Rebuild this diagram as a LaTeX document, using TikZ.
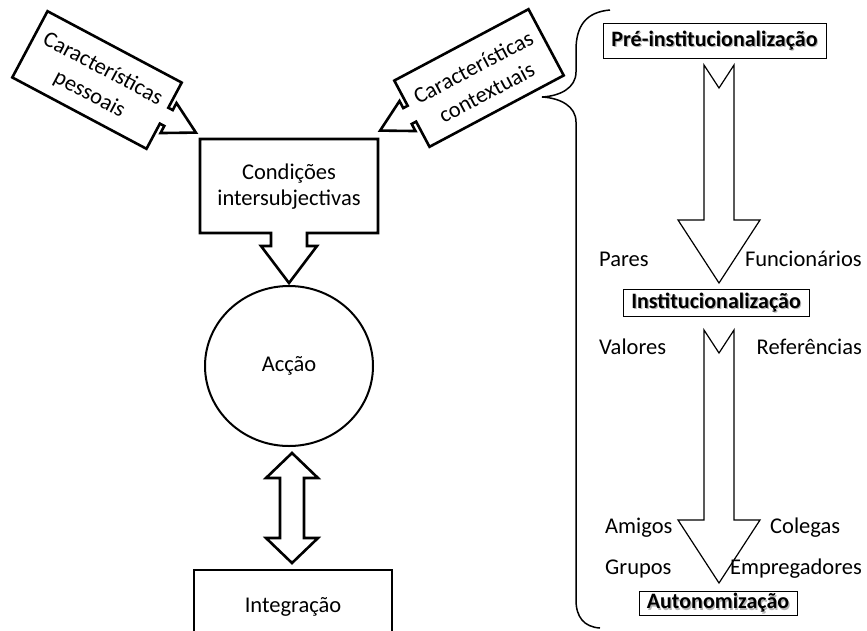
\documentclass[tikz,border=0pt]{standalone}
\usepackage{fontspec}
\setmainfont{Carlito}
\usetikzlibrary{calc,shapes.geometric}

% framed stage label with a soft grey shadow behind the bold text
\newcommand{\stagebox}[5]{%
  \node[stagebox, minimum width=#3, minimum height=#4] (#1) at #2 {};
  \node[stagetext, text=black!55, opacity=0.55] at ($#2+(1.2,1.4)$) {#5};
  \node[stagetext] at #2 {#5};
}

\begin{document}
\begin{tikzpicture}[x=1pt,y=-1pt,
  lbl/.style={font=\fontsize{22.5}{26}\selectfont, align=center, inner sep=0pt},
  tiltlbl/.style={font=\fontsize{22.5}{28.5}\selectfont, align=center, inner sep=0pt},
  bigshape/.style={draw=black, line width=2.6pt, line join=miter, fill=white},
  stagebox/.style={draw=black, line width=0.9pt, fill=white, inner sep=0pt},
  stagetext/.style={font=\fontsize{22}{26}\selectfont\bfseries, inner sep=0pt},
  flow/.style={draw=black, line width=1.2pt, fill=white, line join=miter},
  side/.style={font=\fontsize{22.5}{26}\selectfont, inner sep=0pt},
]
\useasboundingbox (0,0) rectangle (867,630);
\clip (0,0) rectangle (867,630);

% personal characteristics callout
\begin{scope}[shift={(97,80)}, rotate=-28]
  \draw[bigshape] (-76,-37.5) -- (76,-37.5) -- (76,-9) -- (81,-9) -- (81,-17)
    -- (112,0) -- (81,17) -- (81,9) -- (76,9) -- (76,37.5) -- (-76,37.5) -- cycle;
  \node[tiltlbl, rotate=-28] (pess) at (0,2) {Características\\pessoais};
\end{scope}

% contextual characteristics callout
\begin{scope}[shift={(479,78)}, rotate=28]
  \draw[bigshape] (76,-37.5) -- (-76,-37.5) -- (-76,-9) -- (-81,-9) -- (-81,-17)
    -- (-112,0) -- (-81,17) -- (-81,9) -- (-76,9) -- (-76,37.5) -- (76,37.5) -- cycle;
  \node[tiltlbl, rotate=28] (ctx) at (0,2) {Características\\contextuais};
\end{scope}

% intersubjective conditions box with down arrow
\draw[bigshape] (200,139) -- (378,139) -- (378,233) -- (307,233) -- (307,246)
  -- (317,246) -- (289,283) -- (261,246) -- (271,246) -- (271,233) -- (200,233) -- cycle;
\node[lbl] (cond) at (289,187) {Condições\\intersubjectivas};

% action
\node[ellipse, draw=black, line width=2pt, minimum width=168pt, minimum height=160pt,
  lbl] (accao) at (289,366) {Acção};

% two-way arrow
\draw[bigshape] (292,453) -- (318,478) -- (304,478) -- (304,538) -- (318,538)
  -- (292,563) -- (266,538) -- (280,538) -- (280,478) -- (266,478) -- cycle;

% integration
\draw[bigshape] (194,570) rectangle (392,660);
\node[lbl] (integ) at (293,607) {Integração};

% brace grouping the stages
\draw[line width=1.5pt] (610,10) .. controls (586,12) and (576,26) .. (576,50)
  -- (576,72) .. controls (576,88) and (560,96) .. (542,97)
  .. controls (560,98) and (576,106) .. (576,122)
  -- (576,600) .. controls (576,617) and (584,627) .. (600,628);

% stages
\stagebox{pre}{(714.5,40.5)}{223pt}{35pt}{Pré-institucionalização}
\stagebox{inst}{(716,302.5)}{186pt}{27pt}{Institucionalização}
\stagebox{auto}{(718,603)}{158pt}{24pt}{Autonomização}

% stage arrows
\draw[flow] (704,65) -- (719,88) -- (734,65) -- (734,220) -- (760,220)
  -- (719,283) -- (678,220) -- (704,220) -- cycle;
\draw[flow] (704,330) -- (719,353) -- (734,330) -- (734,520) -- (760,520)
  -- (719,583) -- (678,520) -- (704,520) -- cycle;

% agents
\node[side, anchor=base west] (pares) at (599,266) {Pares};
\node[side, anchor=base east] (func) at (862,266) {Funcionários};
\node[side, anchor=base west] (valores) at (599,354) {Valores};
\node[side, anchor=base east] (ref) at (862,354) {Referências};
\node[side, anchor=base west] (amigos) at (605,533) {Amigos};
\node[side, anchor=base west] (colegas) at (770,533) {Colegas};
\node[side, anchor=base west] (grupos) at (605,574) {Grupos};
\node[side, anchor=base east] (empr) at (862,574) {Empregadores};
\end{tikzpicture}
\end{document}
